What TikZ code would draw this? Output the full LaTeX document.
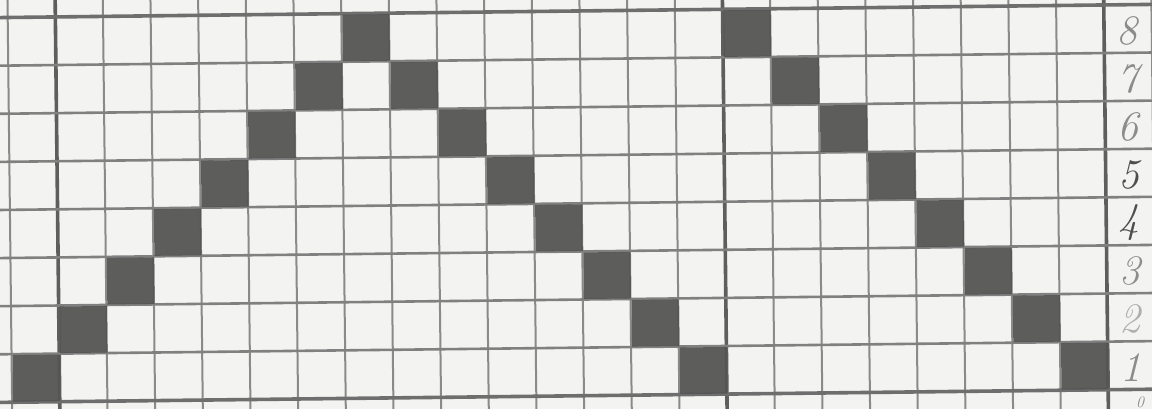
\documentclass[tikz,border=0pt]{standalone}
\definecolor{paper}{HTML}{F3F3F1}
\definecolor{thinline}{HTML}{8A8A8A}
\definecolor{heavyline}{HTML}{5E5E5E}
\definecolor{hline}{HTML}{808080}
\definecolor{pencil}{HTML}{555555}
\definecolor{labgrey}{HTML}{8C8C8C}
\definecolor{labdark}{HTML}{4E4E4E}
\tikzset{
  thinv/.style={draw=thinline, line width=2.0pt},
  heavyv/.style={draw=heavyline, line width=3.6pt},
  horiz/.style={draw=hline, line width=2.6pt},
  horizheavy/.style={draw=heavyline!90, line width=3.6pt},
  shade/.style={fill=pencil, fill opacity=0.95},
  lab/.style={inner sep=0pt, font=\fontsize{42}{42}\selectfont\itshape}
}
\begin{document}
\begin{tikzpicture}[x=1pt,y=-1pt]
\useasboundingbox (0,0) rectangle (1152,409);
\clip (0,0) rectangle (1152,409);
\fill[paper] (0,0) rectangle (1152,409);
\begin{scope}[rotate around={0.655:(576,204)}]
  % vertical lines
  \foreach \i in {0,...,24} {
    \pgfmathsetmacro\xx{9.84+47.66*\i}
    \draw[thinv] (\xx,-30) -- (\xx,440);
  }
  \foreach \i in {1,15,23} {
    \pgfmathsetmacro\xx{9.84+47.66*\i}
    \draw[heavyv] (\xx,-30) -- (\xx,440);
  }
  % horizontal lines
  \foreach \k in {1,...,7} {
    \pgfmathsetmacro\yy{11+48.1*\k}
    \draw[horiz] (-30,\yy) -- (1190,\yy);
  }
  \foreach \k in {0,8} {
    \pgfmathsetmacro\yy{11+48.1*\k}
    \draw[horizheavy] (-30,\yy) -- (1190,\yy);
  }
  % shaded cells: column / row (row 1 = bottom)
  \foreach \c/\r in {1/1,2/2,3/3,4/4,5/5,6/6,7/7,8/8,
                     9/7,10/6,11/5,12/4,13/3,14/2,15/1,
                     16/8,17/7,18/6,19/5,20/4,21/3,22/2,23/1} {
    \pgfmathsetmacro\xa{9.84+47.66*(\c-1)+1}
    \pgfmathsetmacro\xb{9.84+47.66*\c+0.5}
    \pgfmathsetmacro\ya{11+48.1*(8-\r)+1}
    \pgfmathsetmacro\yb{11+48.1*(9-\r)-0.5}
    \fill[shade] (\xa,\ya) rectangle (\xb,\yb);
  }
  % row labels
  \foreach \r/\col in {8/labgrey,7/labgrey,6/labgrey,5/labdark,4/labdark,3/labgrey,2/labgrey!70,1/labgrey} {
    \pgfmathsetmacro\yc{11+48.1*(8-\r)+26}
    \node[lab, text=\col] (lab\r) at (1129,\yc) {\r};
  }
\end{scope}
\node[inner sep=0pt, text=labgrey, font=\fontsize{16}{16}\selectfont\itshape, anchor=south] (lab0) at (1140,408) {0};
\end{tikzpicture}
\end{document}
